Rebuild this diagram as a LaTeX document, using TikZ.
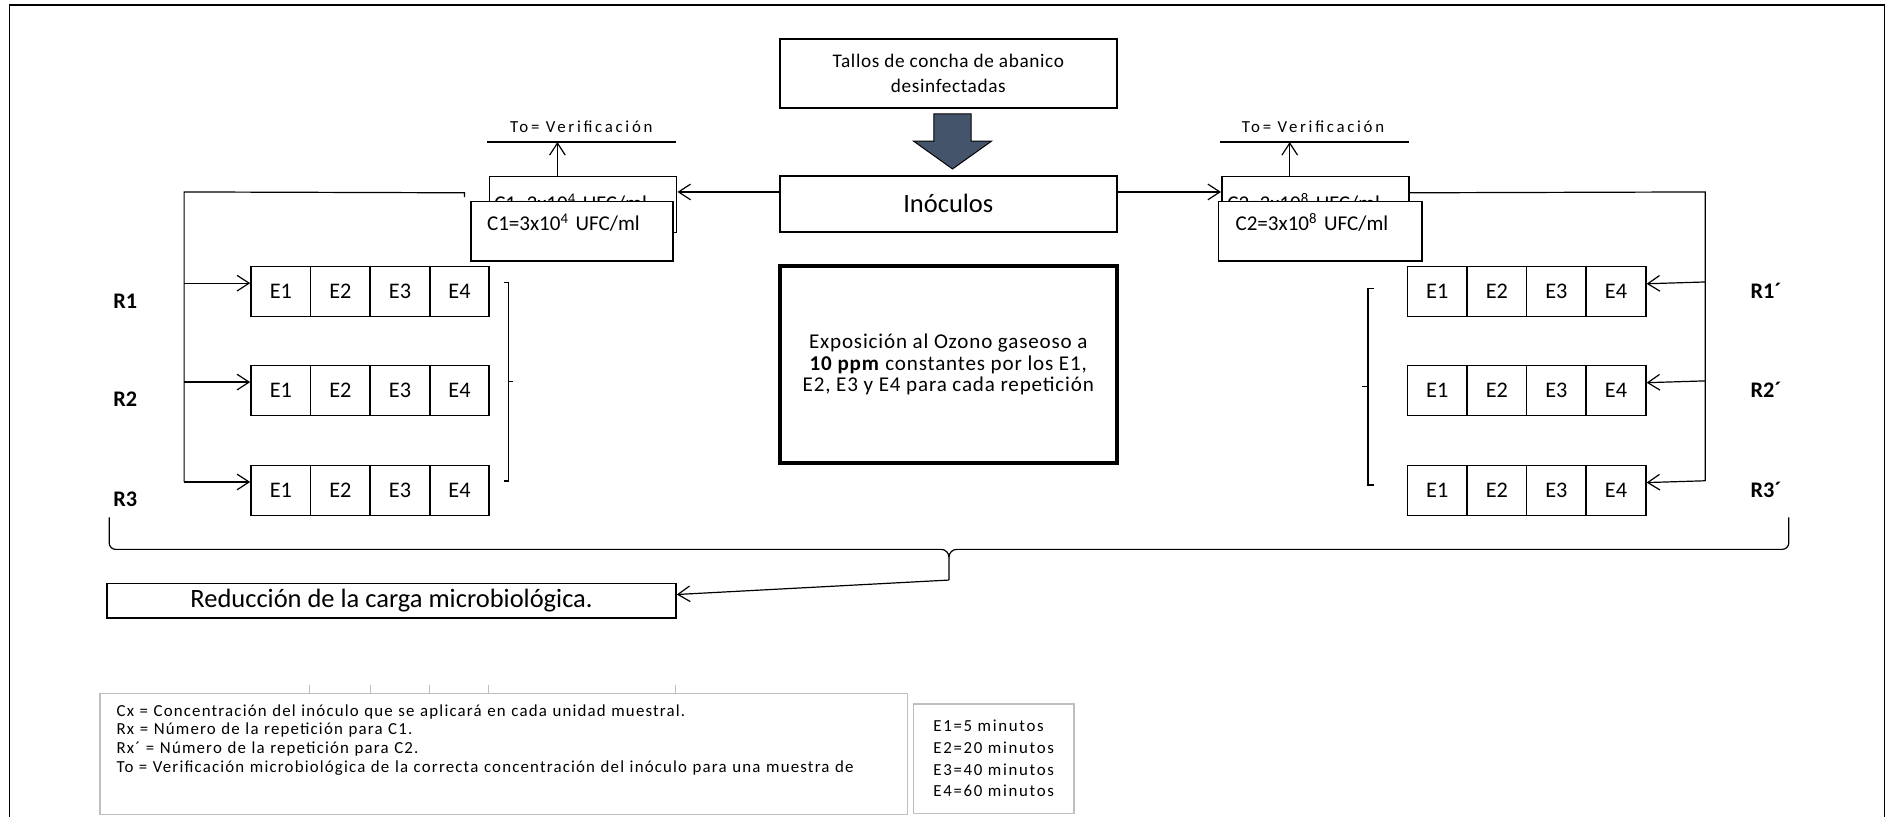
\documentclass[tikz,border=0pt]{standalone}
\usepackage{fontspec}
\setmainfont{Carlito}
\usepackage{tikz}
\usetikzlibrary{arrows.meta,calc,positioning}
\definecolor{arrowslate}{HTML}{44546A}
\definecolor{legendgray}{HTML}{BFBFBF}
\tikzset{
  conn/.style={-{Straight Barb[length=10pt,width=13pt]},line width=1pt},
  feed/.style={line width=1pt},
  box/.style={draw,line width=1.4pt,inner sep=0pt,align=center},
  cell/.style={draw,line width=1.4pt,minimum width=49.5pt,minimum height=41.5pt,inner sep=0pt,font=\fontsize{18.5}{20}\selectfont},
  cbox/.style={draw,fill=white,line width=1.4pt,inner ysep=0pt,align=left,anchor=north west,font=\fontsize{17.5}{19}\selectfont},
  rlabel/.style={text height=12pt,text depth=0pt,inner sep=0pt,font=\fontsize{18.5}{20}\selectfont\bfseries},
  totext/.style={inner sep=0pt,font=\fontsize{14}{15}\selectfont\addfontfeature{LetterSpace=16}},
  legbox/.style={draw=legendgray,line width=1pt,inner sep=0pt},
  legtext/.style={legbox,anchor=north west,align=left,inner xsep=13.8pt,inner ysep=0pt,font=\fontsize{14}{15.5}\selectfont\addfontfeature{LetterSpace=7}},
  bracket/.style={line width=1pt}
}

\begin{document}
\begin{tikzpicture}[x=1pt,y=-1pt]
\useasboundingbox (0,0) rectangle (1568,679);
% marco
\draw[line width=1.3pt] (8,679) -- (8,4.2) -- (1566,4.2) -- (1566,679);

% columna central
\node[box,minimum width=280pt,minimum height=57pt,font=\fontsize{16}{20.7}\selectfont\addfontfeature{LetterSpace=3.3}] (tallos) at (788,61) {Tallos de concha de abanico\\desinfectadas};
\draw[fill=arrowslate,line width=0.8pt] (776,94.7) -- (807,94.7) -- (807,117.2) -- (824,117.2) -- (791.5,140.4) -- (759,117.2) -- (776,117.2) -- cycle;
\node[box,minimum width=280pt,minimum height=46.5pt,font=\fontsize{22}{24}\selectfont] (inoc) at (788,169.25) {Inóculos};
\node[box,line width=3pt,minimum width=280pt,minimum height=164pt,font=\fontsize{17.5}{17.5}\selectfont\addfontfeature{LetterSpace=4}] (ozono) at (788,302.8) {Exposición al Ozono gaseoso a\\\textbf{10 ppm} constantes por los E1,\\E2, E3 y E4 para cada repetición};

% concentraciones
\node[cbox,inner xsep=4pt,text width=147.5pt,text height=28.5pt,text depth=18pt] (c1back) at (406,146) {C1=3x10\textsuperscript{4} UFC/ml};
\node[cbox,inner xsep=13.5pt,text width=141pt,text height=24.3pt,text depth=25pt] (c1) at (390.5,166.7) {C1=3x10\textsuperscript{4} UFC/ml};
\node[cbox,inner xsep=4.5pt,text width=146.4pt,text height=28.5pt,text depth=18pt] (c2back) at (1014.6,146) {C2=3x10\textsuperscript{8} UFC/ml};
\node[cbox,inner xsep=14.2pt,text width=140.5pt,text height=24.3pt,text depth=25pt] (c2) at (1011.8,166.7) {C2=3x10\textsuperscript{8} UFC/ml};

\node[totext] (toL) at (483,105) {To= Verificación};
\node[totext] (toR) at (1091,105) {To= Verificación};
\coordinate (toLa) at (405,118);
\coordinate (toLb) at (562,118);
\coordinate (toRa) at (1013.7,118);
\coordinate (toRb) at (1170.8,118);
\draw[feed] (toLa) -- (toLb);
\draw[feed] (toRa) -- (toRb);
\draw[conn] ([xshift=-21.25pt]c1back.north) -- ([xshift=-21.25pt]c1back.north |- toLa);
\draw[conn] ([xshift=-21.3pt]c2back.north) -- ([xshift=-21.3pt]c2back.north |- toRa);

\draw[conn] ([yshift=9.75pt]inoc.west) -- ([yshift=9.75pt]inoc.west -| c1back.east);
\draw[conn] ([yshift=9.75pt]inoc.east) -- ([yshift=9.75pt]inoc.east -| c2back.west);

% repeticiones
\foreach \r/\y in {1/242.3,2/324.5,3/407.5}{
  \foreach \c in {1,...,4}{
    \node[cell] (A\r-\c) at ({183.85+49.5*\c},\y) {E\c};
    \node[cell] (B\r-\c) at ({1144.8+49.5*\c},\y) {E\c};
  }
}
\foreach \r/\y in {1/250.7,2/332,3/414.6}
  \node[rlabel] (R\r) at (104,\y) {R\r};
\foreach \r/\y in {1/242.3,2/324,3/407.7}
  \node[rlabel] (Rp\r) at (1467.4,\y) {R\r´};

\coordinate (feedL) at (153,159.5);
\coordinate (feedLend) at (153,400.5);
\draw[feed] ([xshift=-20pt,yshift=6.25pt]c1back.west) -- ++(0,-3.5) -- (feedL) -- (feedLend);
\foreach \r in {1,2,3}
  \draw[conn] ([yshift=7pt]A\r-1.west -| feedL) -- ([yshift=7pt]A\r-1.west);

\coordinate (feedR) at (1417,159.5);
\coordinate (feedRend) at (1417,399.5);
\draw[feed] ([yshift=9.75pt]c2back.east) -- (feedR) -- (feedRend);
\foreach \r in {1,2,3}
  \draw[conn] ([yshift=8pt]B\r-4.east -| feedR) -- ([yshift=6.5pt]B\r-4.east);

% corchetes
\draw[bracket] (419,234.6) -- (422.4,234.6) -- (422.4,399.7) -- (419,399.7);
\draw[bracket] (422.4,317.1) -- (426.5,317.1);
\draw[bracket] (1142,240) -- (1136.7,240) -- (1136.7,403) -- (1142,403);
\draw[bracket] (1136.7,321.3) -- (1131.7,321.3);

% llave inferior
\coordinate (bracetip) at (788.5,482);
\draw[feed] (90.7,430) -- (90.7,451) to[out=270,in=180] (96,456.5) -- (782,456.5) to[out=0,in=90] (788.5,463) -- (bracetip);
\draw[feed] (1486.4,430) -- (1486.4,451) to[out=270,in=0] (1481,456.5) -- (795,456.5) to[out=180,in=90] (788.5,463);
\node[box,minimum width=472.7pt,minimum height=28.5pt,font=\fontsize{22}{24}\selectfont] (reduc) at (325.35,499) {Reducción de la carga microbiológica.};
\draw[conn] (bracetip) -- ([yshift=5pt]reduc.east);

% leyenda
\foreach \x in {257,308,357,406,561.5}
  \draw[legendgray,line width=0.8pt] (\x,569) -- (\x,576);
\node[legtext,text width=643.5pt,text height=18.5pt,text depth=81.9pt] (legend) at (82.6,576) {Cx = Concentración del inóculo que se aplicará en cada unidad muestral.\\Rx = Número de la repetición para C1.\\Rx´ = Número de la repetición para C2.\\To = Verificación microbiológica de la correcta concentración del inóculo para una muestra de};
\node[legbox,minimum width=133.4pt,minimum height=90.8pt,align=left,font=\fontsize{14}{18}\selectfont\addfontfeature{LetterSpace=10}] (tiempos) at (825.7,630.4) {E1=5 minutos\\E2=20 minutos\\E3=40 minutos\\E4=60 minutos};
\end{tikzpicture}
\end{document}
